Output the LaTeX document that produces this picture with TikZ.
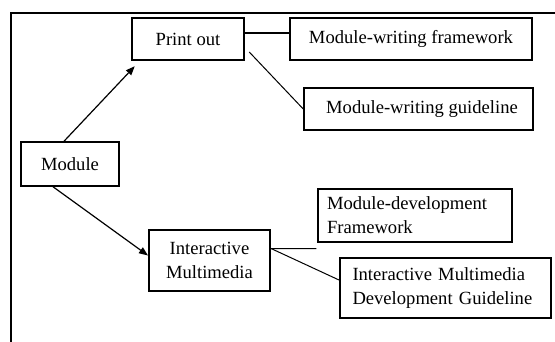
\documentclass[tikz,border=0pt]{standalone}
\usepackage{fontspec}
\setmainfont{Liberation Serif}
\usetikzlibrary{arrows.meta,calc}
\begin{document}
\begin{tikzpicture}[x=1pt,y=-1pt,
  box/.style={draw=black,rectangle,inner sep=0pt,align=center,
    font=\fontsize{18.6}{24}\selectfont},
  leftbox/.style={box,align=left,text width=#1},
  arr/.style={line width=1.2pt,-{Triangle[length=9pt,width=7pt]}},
  link/.style={line width=1pt}]
\useasboundingbox (0,0) rectangle (555,342);
\draw[line width=2pt] (11,342) -- (11,13.5) -- (555,13.5);
\node[box,line width=2.5pt,minimum width=112pt,minimum height=42pt] (print) at (188,39) {Print out};
\node[box,line width=2.5pt,minimum width=242pt,minimum height=42pt] (mwf) at (411,39) {Module-writing framework};
\node[box,line width=1.5pt,minimum width=229pt,minimum height=42pt] (mwg) at (418.5,109) {\hspace*{7pt}Module-writing guideline};
\node[box,line width=1.5pt,minimum width=98pt,minimum height=44pt] (module) at (70,164) {Module};
\node[box,line width=2pt,minimum width=121pt,minimum height=61pt] (im) at (209.5,260.5) {Interactive\\Multimedia};
\node[leftbox=176pt,line width=1.5pt,minimum width=194pt,minimum height=53pt] (mdf) at (415,215.5) {Module-development\\Framework};
\node[leftbox=194pt,line width=2pt,minimum width=211pt,minimum height=60pt] (imdg) at (445.5,288) {\hspace*{4pt}Interactive Multimedia\\\hspace*{4pt}Development Guideline};
\draw[arr] ($(module.north)+(-6,0)$) -- ($(print.south west)+(4,5)$);
\draw[arr] ($(module.south)+(-17,0)$) -- ($(im.west)+(0,-5)$);
\draw[line width=1.5pt] ($(print.east)+(0,-6)$) -- ($(mwf.west)+(0,-6)$);
\draw[link] ($(print.east)+(4,13)$) -- (mwg.west);
\coordinate (imr) at ($(im.east)+(0,-12)$);
\draw[link] (imr) -- ($(mdf.south west)+(-1,6)$);
\draw[link] (imr) -- ($(imdg.west)+(0,-8)$);
\end{tikzpicture}
\end{document}
